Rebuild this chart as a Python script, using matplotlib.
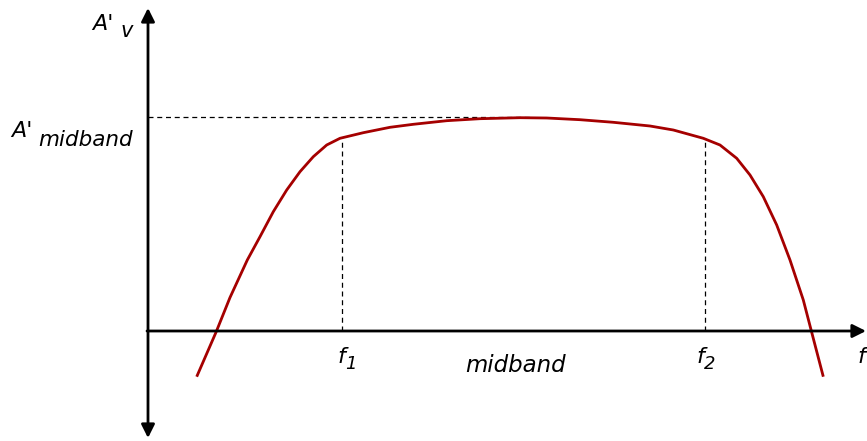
import matplotlib.pyplot as plt
import numpy as np

plt.rcParams.update({
    "font.family": ["DejaVu Sans"],
    "font.style": "italic",
})

DARK_RED = "#a50000"

# frequency response (origin at the axes crossing)
freq = [48.7, 68, 82, 99.3, 112, 125.3, 138.7, 152, 165.3, 178.7, 192,
        215.3, 242, 265.3, 298.7, 332, 372, 398.7, 432, 465.3, 502, 525.3,
        555.3, 572, 588.7, 602, 615.3, 628.7, 642, 655.3, 663.7, 675.3]
gain = [-45.7, -1.3, 33.5, 71, 94.3, 119.3, 141, 159.3, 174.3, 186,
        192.7, 198.3, 203.7, 206.7, 210.3, 212.3, 213.3, 213, 211.3, 208.7,
        205, 201, 192.7, 186, 172.7, 156, 134.3, 106, 71, 31, -1.3, -45.7]

f1 = 194
f2 = 557
gain_mid = 214
f_peak = 382

fig = plt.figure(figsize=(8.67, 4.41), dpi=100)
ax = fig.add_axes([0, 0, 1, 1])
ax.set_xlim(-148, 719)
ax.set_ylim(-110, 331)
ax.axis("off")

# axes with arrows
arrow = dict(arrowstyle="-|>", lw=2, color="black", mutation_scale=20,
             shrinkA=0, shrinkB=0)
ax.annotate("", xy=(0, 323), xytext=(0, 0), arrowprops=arrow)
ax.annotate("", xy=(0, -107), xytext=(0, 0), arrowprops=arrow)
ax.annotate("", xy=(718, 0), xytext=(-1, 0), arrowprops=arrow)

# dashed guides
ax.plot([0, f_peak], [gain_mid, gain_mid], color="black", lw=0.9,
        dashes=(4, 3))
ax.plot([f1, f1], [0, 193], color="black", lw=0.9, dashes=(4, 3))
ax.plot([f2, f2], [0, 193], color="black", lw=0.9, dashes=(4, 3))

ax.plot(freq, gain, color=DARK_RED, lw=2, solid_capstyle="butt",
        solid_joinstyle="round")

# labels
ax.text(-56, 301, "A'", fontsize=16, ha="left", va="baseline")
ax.text(-28, 294, "v", fontsize=15, ha="left", va="baseline")
ax.text(-137, 194, "A'", fontsize=16, ha="left", va="baseline")
ax.text(-110, 185, "midband", fontsize=15.5, ha="left", va="baseline")

ax.text(f1 - 5, -32, "f", fontsize=16, ha="left", va="baseline")
ax.text(f1 + 3, -38, "1", fontsize=13, ha="left", va="baseline")
ax.text(f2 - 9, -32, "f", fontsize=16, ha="left", va="baseline")
ax.text(f2 - 1, -38, "2", fontsize=13, ha="left", va="baseline")
ax.text(709, -32, "f", fontsize=16, ha="left", va="baseline")
ax.text(367, -41, "midband", fontsize=16.5, ha="center", va="baseline")

fig.savefig("out.png", dpi=100)
